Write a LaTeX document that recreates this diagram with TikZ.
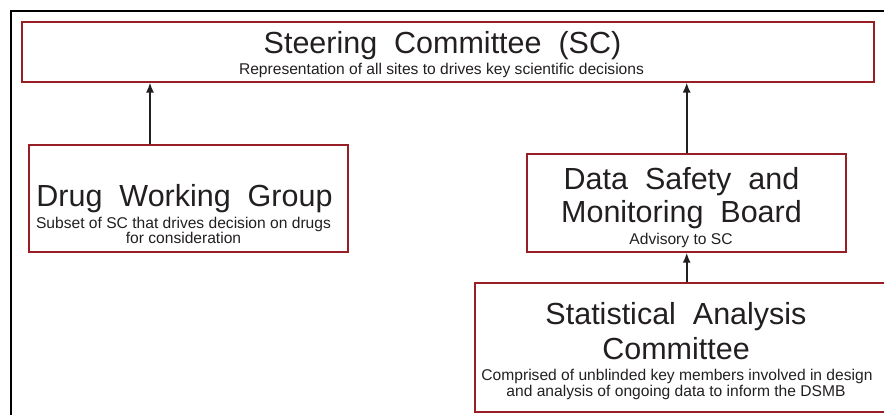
\documentclass[tikz,border=0pt]{standalone}
\usepackage{fontspec}
\setmainfont{Liberation Sans}
\newfontfamily\titlefont[WordSpace=2.0]{Liberation Sans}
\usetikzlibrary{arrows.meta}

\definecolor{boxred}{RGB}{150,30,36}
\definecolor{inkgray}{RGB}{35,31,32}

\tikzset{
  box/.style={draw=boxred,line width=2pt,inner sep=0pt},
  title/.style={font=\titlefont\fontsize{30.5}{32}\selectfont,text=inkgray,inner sep=0pt,anchor=base},
  sub/.style={font=\fontsize{15.6}{17}\selectfont,text=inkgray,inner sep=0pt,anchor=base},
  up/.style={-{Latex[length=10pt,width=8pt]},line width=1.8pt,draw=inkgray},
}

\begin{document}
\begin{tikzpicture}[x=1pt,y=-1pt]
  \useasboundingbox (0,0) rectangle (884,415);
  % frame
  \draw[line width=2.4pt] (11,415) -- (11,11) -- (884,11);

  \node [box,minimum width=852pt,minimum height=60pt] (sc) at (447.5,51.5) {};
  \node [box,minimum width=319pt,minimum height=106.5pt] (dwg) at (188.8,198.3) {};
  \node [box,minimum width=318.7pt,minimum height=97.4pt] (dsmb) at (686.7,203) {};
  \node [box,minimum width=424pt,minimum height=129pt] (sac) at (687,347.2) {};

  \node [title] (sc title) at (442.5,53) {Steering Committee (SC)};
  \node [sub] (sc sub) at (441.5,74) {Representation of all sites to drives key scientific decisions};

  \node [title] (dwg title) at (184.5,206) {Drug Working Group};
  \node [sub] (dwg sub1) at (183.5,228) {Subset of SC that drives decision on drugs};
  \node [sub] (dwg sub2) at (183.5,243.5) {for consideration};

  \node [title] (dsmb title1) at (681.5,189) {Data Safety and};
  \node [title] (dsmb title2) at (681.5,222) {Monitoring Board};
  \node [sub] (dsmb sub) at (681,244) {Advisory to SC};

  \node [title] (sac title1) at (676,324) {Statistical Analysis};
  \node [title] (sac title2) at (676,359) {Committee};
  \node [sub] (sac sub1) at (677,380) {Comprised of unblinded key members involved in design};
  \node [sub] (sac sub2) at (676,396) {and analysis of ongoing data to inform the DSMB};

  \coordinate (dwg top) at ([xshift=-38.8pt]dwg.north);
  \draw[up] (dwg top) -- (dwg top |- sc.south);
  \draw[up] (dsmb.north) -- (dsmb.north |- sc.south);
  \draw[up] (sac.north -| dsmb.south) -- (dsmb.south);
\end{tikzpicture}
\end{document}
